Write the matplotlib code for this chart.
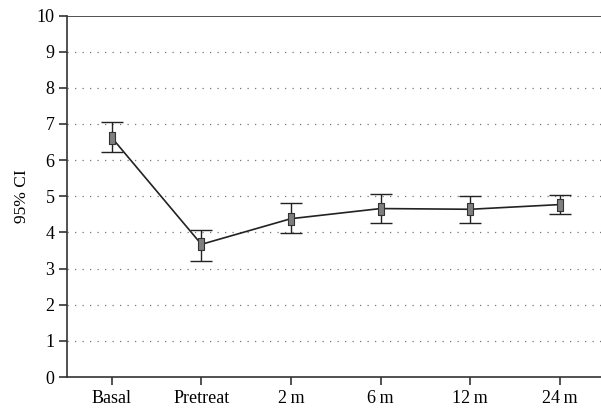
import matplotlib
matplotlib.use("Agg")
import matplotlib.pyplot as plt

# values
groups = ["Basal", "Pretreat", "2\u2009m", "6\u2009m", "12\u2009m", "24\u2009m"]
means = [6.62, 3.67, 4.38, 4.66, 4.64, 4.77]
upper = [7.05, 4.06, 4.80, 5.06, 5.02, 5.04]
lower = [6.22, 3.20, 3.97, 4.27, 4.27, 4.50]

plt.rcParams['font.family'] = ['Liberation Serif', 'DejaVu Serif']

fig = plt.figure(figsize=(6.01, 4.17), dpi=100)
ax = fig.add_axes([0.1115, 0.0959, 0.8885, 0.8669])

x = list(range(len(groups)))
err_lo = [m - l for m, l in zip(means, lower)]
err_hi = [u - m for m, u in zip(means, upper)]

for yv in range(1, 10):
    ax.axhline(yv, color="#777777", linestyle=(0, (1, 5)), linewidth=0.9, zorder=0)
ax.axhline(10, color="#333333", linewidth=1.2, zorder=1)

ax.errorbar(x, means, yerr=[err_lo, err_hi], fmt="none", ecolor="#222222",
            elinewidth=1.0, capsize=8, capthick=1.0, zorder=2)
ax.plot(x, means, color="#222222", linewidth=1.2, zorder=3)
rect = [(-0.45, -1), (0.45, -1), (0.45, 1), (-0.45, 1), (-0.45, -1)]
ax.plot(x, means, linestyle="none", marker=rect, markersize=8.6,
        markerfacecolor="#7f7f7f", markeredgecolor="#333333",
        markeredgewidth=0.8, zorder=4)

ax.set_xlim(-0.5, 5.46)
ax.set_ylim(0, 10)
ax.set_yticks(range(0, 11))
ax.set_xticks(x)
ax.set_xticklabels(groups)
ax.set_ylabel("95% CI", fontsize=12.5, labelpad=5)
ax.tick_params(labelsize=13, color="#333333", width=1.2, length=5.5)

for s in ["top", "right"]:
    ax.spines[s].set_visible(False)
for s in ["left", "bottom"]:
    ax.spines[s].set_linewidth(1.2)
    ax.spines[s].set_color("#333333")

fig.savefig("out.png", dpi=100)
